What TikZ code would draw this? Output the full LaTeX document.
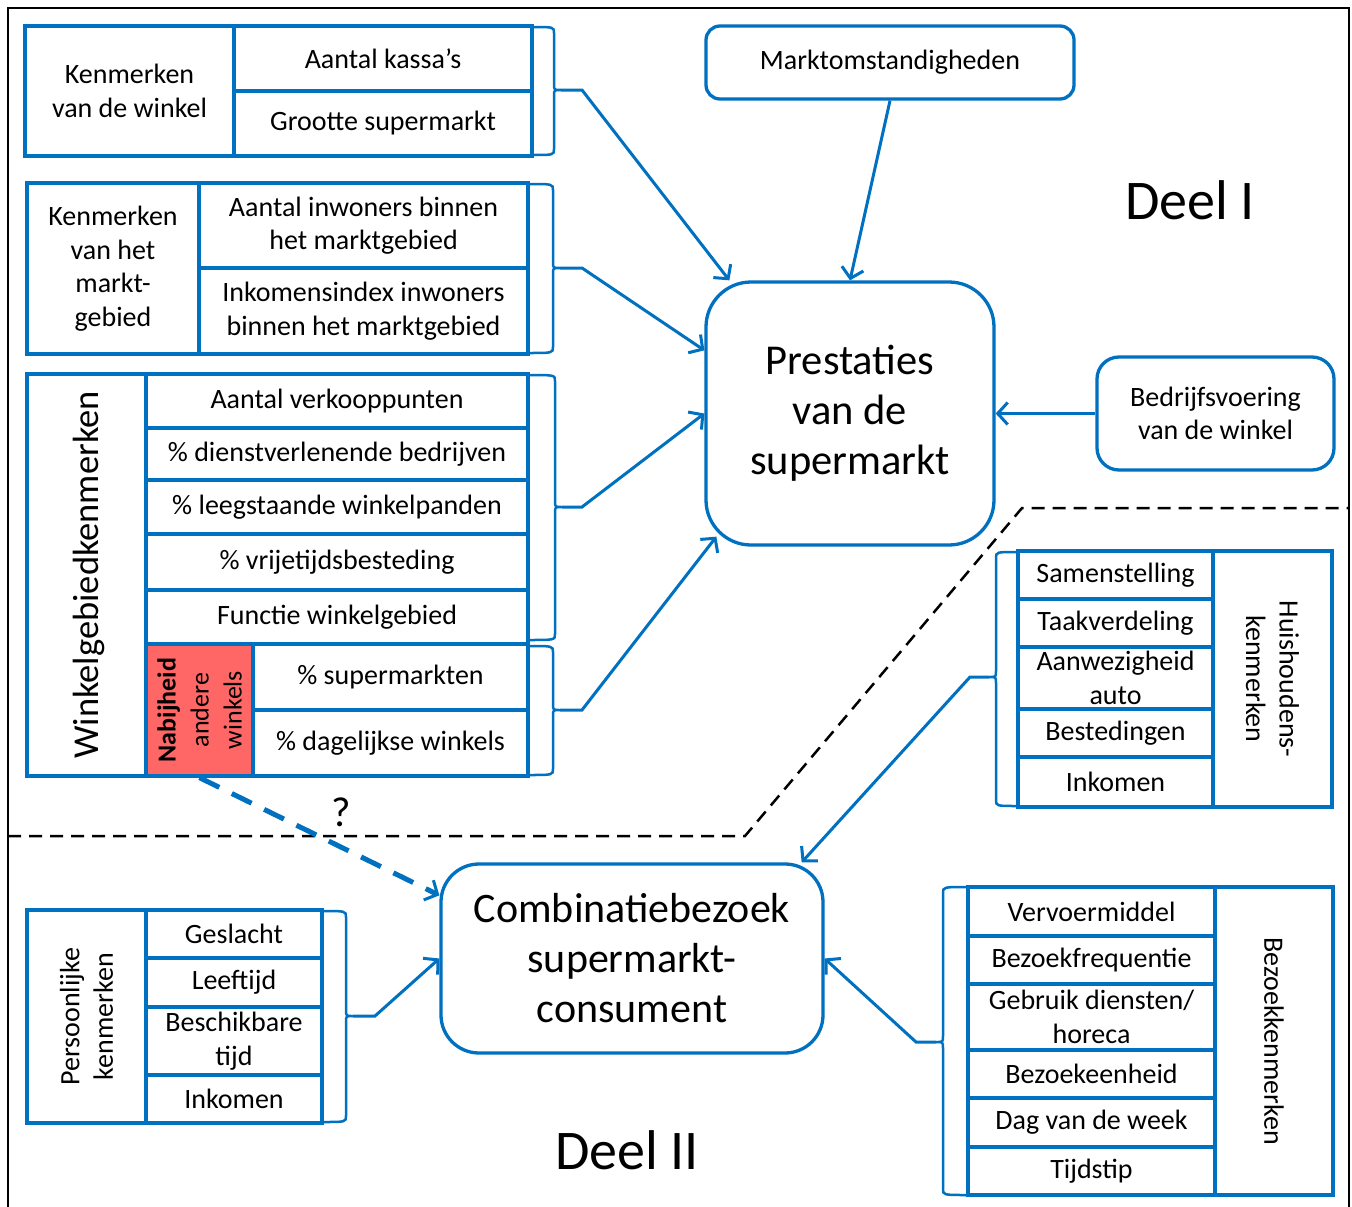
\documentclass[tikz,border=0pt]{standalone}
\usepackage{fontspec}
\setmainfont{Carlito}
\usetikzlibrary{arrows.meta,calc}
\definecolor{bl}{RGB}{0,112,192}
\definecolor{rd}{RGB}{255,102,102}
\newcommand\cellfont{\fontsize{28}{33.5}\selectfont}
\newcommand\mycell[7]{%
 \pgfmathsetmacro\mcw{#5-#3}\pgfmathsetmacro\mch{#6-#4}%
 \pgfmathsetmacro\mcx{(#3+#5)/2}\pgfmathsetmacro\mcy{(#4+#6)/2}%
 \node[cellst,minimum width=\mcw pt,minimum height=\mch pt,#1] (#2) at (\mcx,\mcy) {#7};}
% x0, xb, ytop, ybot, ytip, name, dir
\newcommand\brk[7]{%
 \draw[brkst] (#1,#3) .. controls (#2,#3) .. (#2,#3+6) -- (#2,#5-6) .. controls (#2,#5) .. (#2+7*#7,#5)
   .. controls (#2,#5) .. (#2,#5+6) -- (#2,#4-6) .. controls (#2,#4) .. (#1,#4);
 \coordinate (#6) at (#2+7*#7,#5);}
\begin{document}
\begin{tikzpicture}[x=1pt,y=-1pt,
  cellst/.style={draw=bl,line width=3.3pt,inner sep=1pt,align=center,font=\cellfont},
  brkst/.style={draw=bl,line width=2.5pt},
  arr/.style={draw=bl,line width=3pt,-{Straight Barb[length=10pt,width=22pt]}},
  rbox/.style={draw=bl,line width=3.3pt,align=center},
  rtxt/.style={align=center,font=\cellfont,inner sep=0pt}]
\useasboundingbox (0,0) rectangle (1352,1207);
\fill[white] (0,0) rectangle (1352,1207);
\draw[line width=2.5pt] (8,1210) -- (8,8) -- (1349,8) -- (1349,1210);

% Box 1
\mycell{}{k1}{25}{26}{234}{156}{Kenmerken\\van de winkel}
\mycell{}{k1a}{234}{26}{532}{91}{Aantal kassa’s}
\mycell{}{k1b}{234}{91}{532}{156}{Grootte supermarkt}
% Box 2
\mycell{}{k2}{27}{183}{199}{354}{Kenmerken\\van het\\markt-\\gebied}
\mycell{}{k2a}{199}{183}{528}{268}{Aantal inwoners binnen\\het marktgebied}
\mycell{}{k2b}{199}{268}{528}{354}{Inkomensindex inwoners\\binnen het marktgebied}
% Box 3
\mycell{}{wk}{27}{374}{146}{776}{}
\node[rtxt,rotate=90,font=\fontsize{36.5}{42}\selectfont] (wkt) at ($(wk)+(2,0)$) {Winkelgebiedkenmerken};
\mycell{}{w1}{146}{374}{528}{428}{Aantal verkooppunten}
\mycell{}{w2}{146}{428}{528}{480}{\% dienstverlenende bedrijven}
\mycell{}{w3}{146}{480}{528}{534}{\% leegstaande winkelpanden}
\mycell{}{w4}{146}{534}{528}{590}{\% vrijetijdsbesteding}
\mycell{}{w5}{146}{590}{528}{644}{Functie winkelgebied}
\mycell{fill=rd}{red}{146}{644}{253}{776}{}
\node[rtxt,rotate=90,font=\fontsize{26}{33}\selectfont] (redt) at (red) {\textbf{Nabijheid}\\andere\\winkels};
\mycell{}{w6}{253}{644}{528}{710}{\% supermarkten}
\mycell{}{w7}{253}{710}{528}{776}{\% dagelijkse winkels}
% Persoonlijke
\mycell{}{pk}{27}{910}{146}{1123}{}
\node[rtxt,rotate=90] (pkt) at (pk) {Persoonlijke\\kenmerken};
\mycell{}{p1}{146}{910}{322}{958}{Geslacht}
\mycell{}{p2}{146}{958}{322}{1007}{Leeftijd}
\mycell{}{p3}{146}{1007}{322}{1075}{Beschikbare\\tijd}
\mycell{}{p4}{146}{1075}{322}{1123}{Inkomen}
% Huishouden
\mycell{}{h1}{1018}{551}{1213}{599}{Samenstelling}
\mycell{}{h2}{1018}{599}{1213}{647}{Taakverdeling}
\mycell{}{h3}{1018}{647}{1213}{709}{Aanwezigheid\\auto}
\mycell{}{h4}{1018}{709}{1213}{757}{Bestedingen}
\mycell{}{h5}{1018}{757}{1213}{807}{Inkomen}
\mycell{}{hk}{1213}{551}{1332}{807}{}
\node[rtxt,rotate=-90] (hkt) at (hk) {Huishoudens-\\kenmerken};
% Bezoek
\mycell{}{z1}{968}{887}{1215}{936}{Vervoermiddel}
\mycell{}{z2}{968}{936}{1215}{984}{Bezoekfrequentie}
\mycell{}{z3}{968}{984}{1215}{1050}{Gebruik diensten/\\horeca}
\mycell{}{z4}{968}{1050}{1215}{1098}{Bezoekeenheid}
\mycell{}{z5}{968}{1098}{1215}{1147}{Dag van de week}
\mycell{}{z6}{968}{1147}{1215}{1195}{Tijdstip}
\mycell{}{zk}{1215}{887}{1333}{1195}{}
\node[rtxt,rotate=-90] (zkt) at (zk) {Bezoekkenmerken};

% Rounded boxes
\node[rbox,rounded corners=45pt,minimum width=288pt,minimum height=263pt,font=\fontsize{42.5}{50}\selectfont] (prest) at (850,413.5) {Prestaties\\van de\\supermarkt};
\node[rbox,rounded corners=14pt,minimum width=368pt,minimum height=73pt,font=\cellfont] (markt) at (890,62.5) {Marktomstandigheden};
\node[rbox,rounded corners=22pt,minimum width=237pt,minimum height=113pt,font=\cellfont] (bedr) at (1215.5,413.5) {Bedrijfsvoering\\van de winkel};
\node[rbox,rounded corners=38pt,minimum width=382pt,minimum height=189pt,font=\fontsize{42}{50}\selectfont] (comb) at (632,958.5) {Combinatiebezoek\\supermarkt-\\consument};

% Labels
\node[font=\fontsize{56}{64}\selectfont] (deel1) at (1190,200) {Deel I};
\node[font=\fontsize{56}{64}\selectfont] (deel2) at (627,1150) {Deel II};
\node[font=\fontsize{42}{46}\selectfont] (qm) at (341,812) {?};

% Dashed separator
\draw[black,line width=2.5pt,dash pattern=on 13pt off 8pt] (8,836) -- (745,836) -- (1022,508) -- (1349,508);

% Brackets
\brk{532}{554}{27}{155}{90}{b1}{1}
\brk{528}{553}{184}{353}{268}{b2}{1}
\brk{528}{555}{375}{640}{507}{b3}{1}
\brk{528}{553}{646}{775}{710}{b4}{1}
\brk{322}{346}{911}{1122}{1016}{b5}{1}
\brk{1018}{996}{552}{806}{677}{b6}{-1}
\brk{968}{943}{887}{1195}{1042}{b7}{-1}
\coordinate (e1) at (582,90);
\coordinate (e2) at (582,268);
\coordinate (e3) at (582,507);
\coordinate (e4) at (582,710);
\coordinate (e5) at (375,1016);
\coordinate (e6) at (970,677);
\coordinate (e7) at (916,1042);

% Connectors
\draw[arr] (b1) -- (e1) -- ($(prest.north west)+(25,0)$);
\draw[arr] (b2) -- (e2) -- ($(prest.north west)+(0,70)$);
\draw[arr] (b3) -- (e3) -- (prest.west);
\draw[arr] (b4) -- (e4) -- ($(prest.south west)+(12,-10)$);
\draw[arr] (markt.south) -- (prest.north);
\draw[arr] (bedr.west) -- (prest.east);
\draw[arr] (b5) -- (e5) -- (comb.west);
\draw[arr] (b6) -- (e6) -- ($(comb.north east)+(-23,0)$);
\draw[arr] (b7) -- (e7) -- (comb.east);
\draw[draw=bl,line width=5pt,dash pattern=on 22pt off 14pt,-{Straight Barb[length=10pt,width=22pt,line width=3pt]}] (red.south) -- ($(comb.north west)+(0,33)$);
\end{tikzpicture}
\end{document}
